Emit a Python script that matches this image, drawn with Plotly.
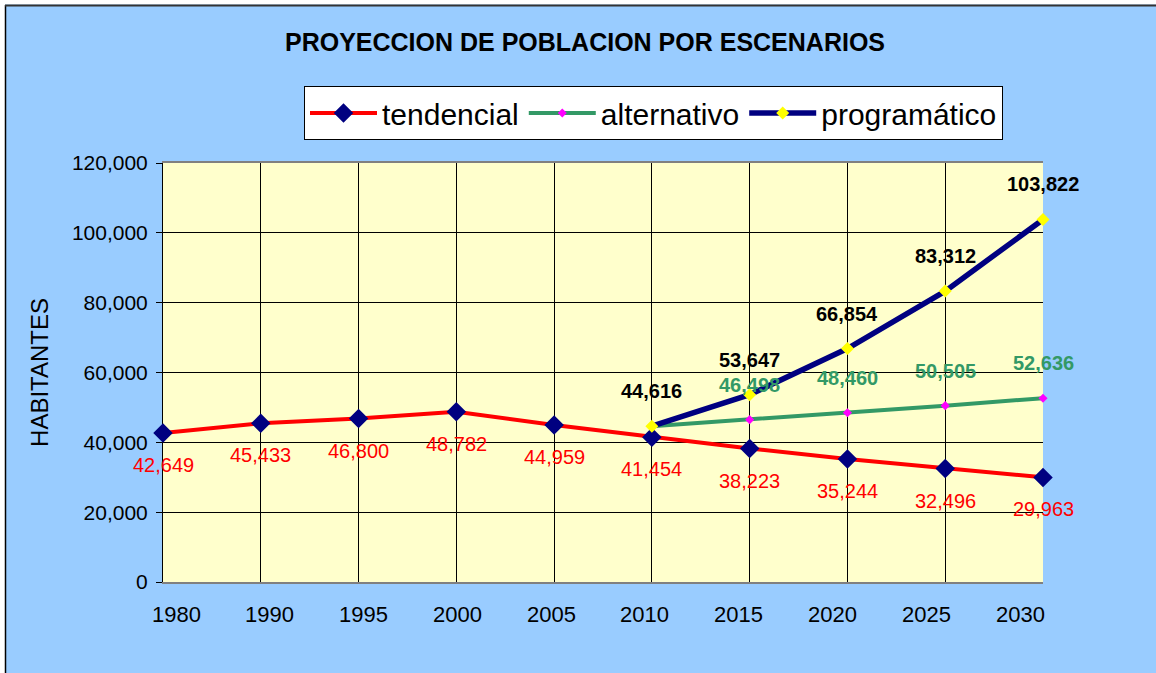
import plotly.graph_objects as go

# Años de la serie y proyecciones de población (habitantes)
years = ["1980", "1990", "1995", "2000", "2005", "2010", "2015", "2020", "2025", "2030"]
tendencial = [42649, 45433, 46800, 48782, 44959, 41454, 38223, 35244, 32496, 29963]
alternativo = [None, None, None, None, None, 44616, 46498, 48460, 50505, 52636]
programatico = [None, None, None, None, None, 44616, 53647, 66854, 83312, 103822]

FONT = "Liberation Sans, Arial, sans-serif"
W, H = 1156, 673
L, R, T, B = 163, 113, 163, 91
PW, PH = W - L - R, H - T - B


def px_x(px):
    return (px - L) / PW


def px_y(py):
    return (H - B - py) / PH


fig = go.Figure()

fig.add_trace(go.Scatter(
    x=years, y=tendencial, name="tendencial", mode="lines+markers",
    line=dict(color="#FF0000", width=4),
    marker=dict(symbol="diamond", size=15, color="#000080"),
    cliponaxis=False,
))
fig.add_trace(go.Scatter(
    x=years, y=alternativo, name="alternativo", mode="lines+markers",
    line=dict(color="#339966", width=4),
    marker=dict(symbol="diamond", size=7, color="#FF00FF"),
    cliponaxis=False,
))
fig.add_trace(go.Scatter(
    x=years, y=programatico, name="programático", mode="lines+markers",
    line=dict(color="#000080", width=5.5),
    marker=dict(symbol="diamond", size=10, color="#FFFF00"),
    cliponaxis=False,
))

annotations = []
# etiquetas de la serie tendencial, debajo de cada punto
# (x = posición de la categoría en el eje)
for i, v in enumerate(tendencial):
    annotations.append(dict(x=i, y=v, xref="x", yref="y", text=f"{v:,}", showarrow=False,
                            yshift=-32, font=dict(family=FONT, size=20, color="#FF0000")))
# etiquetas alternativo (el valor de 2010 coincide con el programático)
for i, v in enumerate(alternativo):
    if v is None or i == 5:
        continue
    annotations.append(dict(x=i, y=v, xref="x", yref="y", text=f"<b>{v:,}</b>", showarrow=False,
                            yshift=35, font=dict(family=FONT, size=20, color="#339966")))
# etiquetas programático
for i, v in enumerate(programatico):
    if v is None:
        continue
    annotations.append(dict(x=i, y=v, xref="x", yref="y", text=f"<b>{v:,}</b>", showarrow=False,
                            yshift=35, font=dict(family=FONT, size=20, color="#000000")))

# rótulos del eje de categorías, repartidos entre 176 px y 1020 px
lab0, lab1 = px_x(176), px_x(1020)
for i, yr in enumerate(years):
    annotations.append(dict(x=lab0 + i * (lab1 - lab0) / (len(years) - 1), y=px_y(614),
                            xref="paper", yref="paper", text=yr, showarrow=False,
                            xanchor="center", yanchor="middle",
                            font=dict(family=FONT, size=22, color="#000000")))

# marco exterior del gráfico
shapes = [
    dict(type="rect", xref="paper", yref="paper", x0=px_x(0), x1=px_x(5), y0=px_y(H), y1=px_y(0),
         fillcolor="white", line=dict(width=0), layer="above"),
    dict(type="rect", xref="paper", yref="paper", x0=px_x(0), x1=px_x(W), y0=px_y(4.5), y1=px_y(0),
         fillcolor="white", line=dict(width=0), layer="above"),
    dict(type="line", xref="paper", yref="paper", x0=px_x(5.5), x1=px_x(5.5), y0=px_y(H), y1=px_y(5),
         line=dict(color="#000000", width=1.5), layer="above"),
    dict(type="line", xref="paper", yref="paper", x0=px_x(5), x1=px_x(W), y0=px_y(5.5), y1=px_y(5.5),
         line=dict(color="#333333", width=2), layer="above"),
]

fig.update_layout(
    width=W, height=H,
    margin=dict(l=L, r=R, t=T, b=B),
    paper_bgcolor="#99CCFF",
    plot_bgcolor="#FFFFCC",
    font=dict(family=FONT, color="#000000"),
    title=dict(text="<b>PROYECCION DE POBLACION POR ESCENARIOS</b>",
               font=dict(family=FONT, size=25, color="#000000"),
               x=585 / W, xref="container", xanchor="center",
               y=1 - 42 / H, yref="container", yanchor="middle"),
    showlegend=True,
    legend=dict(orientation="h", x=px_x(304), xanchor="left", y=px_y(86), yanchor="top",
                bgcolor="#FFFFFF", bordercolor="#000000", borderwidth=1,
                font=dict(family=FONT, size=30, color="#000000"),
                traceorder="normal", itemwidth=67),
    xaxis=dict(type="category", range=[0, len(years) - 1],
               showgrid=True, gridcolor="#000000", gridwidth=1,
               showline=True, linecolor="#808080", linewidth=2, mirror=True,
               showticklabels=False, ticks="", zeroline=False, layer="below traces"),
    yaxis=dict(range=[0, 120000], dtick=20000, tickformat=",d",
               showgrid=True, gridcolor="#000000", gridwidth=1,
               showline=True, linecolor="#000000", linewidth=1,
               ticks="outside", ticklen=6, tickcolor="#000000",
               ticklabelstandoff=4,
               tickfont=dict(family=FONT, size=21, color="#000000"),
               title=dict(text="HABITANTES", standoff=16,
                          font=dict(family=FONT, size=24, color="#000000")),
               zeroline=False, layer="below traces"),
    annotations=annotations,
    shapes=shapes,
)

fig.write_html("out.html")
